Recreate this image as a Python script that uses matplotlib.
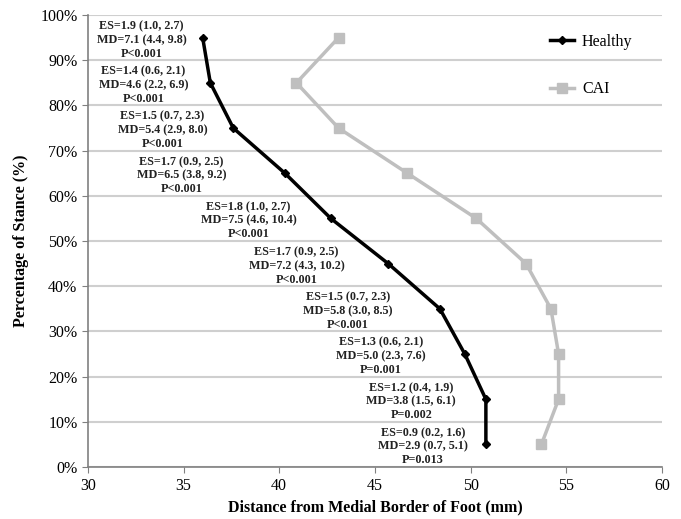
import matplotlib.pyplot as plt
from matplotlib.ticker import FuncFormatter

plt.rcParams['font.family'] = ['Liberation Serif', 'DejaVu Serif']

# stance levels (%) and mean distance from medial border (mm)
stance = [5, 15, 25, 35, 45, 55, 65, 75, 85, 95]
healthy = [50.8, 50.8, 49.7, 48.4, 45.7, 42.7, 40.3, 37.6, 36.4, 36.0]
cai = [53.7, 54.6, 54.6, 54.2, 52.9, 50.3, 46.7, 43.1, 40.9, 43.1]

# stats text per stance level
es_text = ['ES=0.9 (0.2, 1.6)', 'ES=1.2 (0.4, 1.9)', 'ES=1.3 (0.6, 2.1)',
           'ES=1.5 (0.7, 2.3)', 'ES=1.7 (0.9, 2.5)', 'ES=1.8 (1.0, 2.7)',
           'ES=1.7 (0.9, 2.5)', 'ES=1.5 (0.7, 2.3)', 'ES=1.4 (0.6, 2.1)',
           'ES=1.9 (1.0, 2.7)']
md_text = ['MD=2.9 (0.7, 5.1)', 'MD=3.8 (1.5, 6.1)', 'MD=5.0 (2.3, 7.6)',
           'MD=5.8 (3.0, 8.5)', 'MD=7.2 (4.3, 10.2)', 'MD=7.5 (4.6, 10.4)',
           'MD=6.5 (3.8, 9.2)', 'MD=5.4 (2.9, 8.0)', 'MD=4.6 (2.2, 6.9)',
           'MD=7.1 (4.4, 9.8)']
p_text = ['P=0.013', 'P=0.002', 'P=0.001', 'P<0.001', 'P<0.001',
          'P<0.001', 'P<0.001', 'P<0.001', 'P<0.001', 'P<0.001']

# where each stats block sits (x centre in mm)
label_x = [47.5, 46.9, 45.3, 43.6, 40.9, 38.4, 34.9, 33.9, 32.9, 32.8]

fig = plt.figure(figsize=(6.81, 5.19), dpi=100)
ax = fig.add_axes([0.129, 0.100, 0.843, 0.871])

ax.plot(healthy, stance, color='black', lw=2.5, marker='D', ms=4.5, label='Healthy', zorder=4)
ax.plot(cai, stance, color='#bfbfbf', lw=2.5, marker='s', ms=7, label='CAI', zorder=3)

for x, y, a, b, c in zip(label_x, stance, es_text, md_text, p_text):
    ax.text(x, y - 0.5, a + '\n' + b + '\n' + c, ha='center', va='center',
            fontsize=8.7, fontweight='bold', linespacing=1.18, color='#222222', zorder=5)

ax.set_xlim(30, 60)
ax.set_ylim(0, 100)
ax.set_xticks(range(30, 61, 5))
ax.set_yticks(range(0, 101, 10))
ax.yaxis.set_major_formatter(FuncFormatter(lambda v, p: '%d%%' % v))
ax.tick_params(labelsize=11.5, direction='out', length=4, color='#808080')
ax.grid(axis='y', color='#cfcfcf', lw=1.5)
ax.set_axisbelow(True)
for s in ['top', 'right']:
    ax.spines[s].set_visible(False)
for s in ['left', 'bottom']:
    ax.spines[s].set_color('#808080')
    ax.spines[s].set_linewidth(1.2)

ax.set_xlabel('Distance from Medial Border of Foot (mm)', fontsize=11.5, fontweight='bold')
ax.set_ylabel('Percentage of Stance (%)', fontsize=11.5, fontweight='bold', labelpad=8)

ax.legend(loc='upper left', bbox_to_anchor=(0.78, 0.99), frameon=False, fontsize=11.5,
          labelspacing=1.95, handlelength=1.5, handletextpad=0.5)

fig.savefig('out.png', dpi=100)
